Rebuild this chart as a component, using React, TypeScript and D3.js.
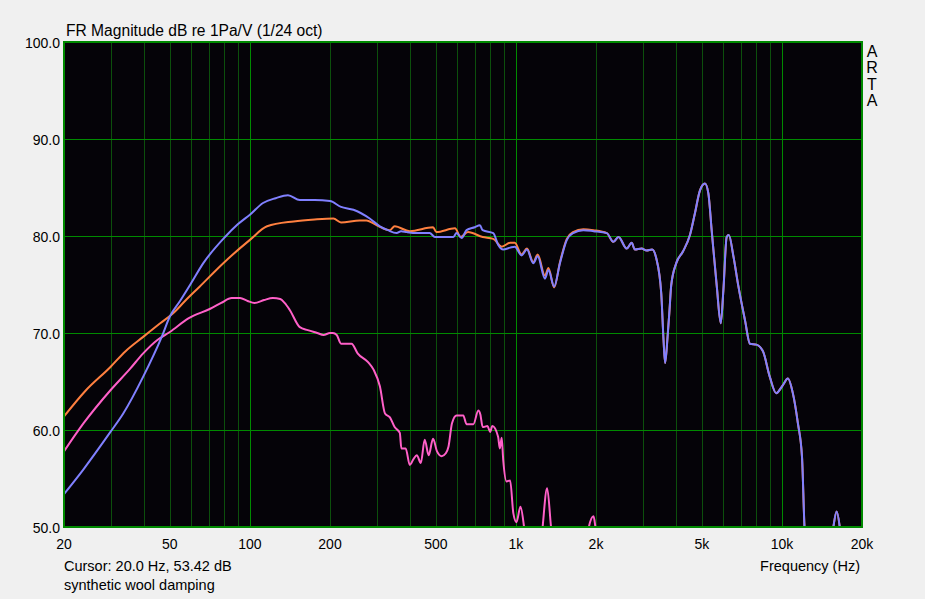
import React from "react";
import * as d3 from "d3";

const W = 925;
const H = 599;

// Axis definitions
const X_TICKS = [20, 50, 100, 200, 500, 1000, 2000, 5000, 10000, 20000];
const X_TICK_LABELS = ["20", "50", "100", "200", "500", "1k", "2k", "5k", "10k", "20k"];
const X_MAJOR_GRID = [100, 1000, 10000];
const X_MINOR_GRID = [30, 40, 50, 60, 70, 80, 90, 200, 300, 400, 500, 600, 700, 800, 900, 2000, 3000, 4000, 5000, 6000, 7000, 8000, 9000];
const Y_TICKS = [50, 60, 70, 80, 90, 100];
const Y_TICK_LABELS = ["50.0", "60.0", "70.0", "80.0", "90.0", "100.0"];

// Series: [frequency Hz, dB]
const PINK: [number, number][] = [[20,57.8],[23.7,60.7],[29.9,64.1],[35.4,66.3],[39.7,67.9],[45,69.3],[50,70.1],[58.7,71.5],[70.9,72.5],[78,73.1],[85.4,73.6],[91.8,73.6],[98,73.3],[104,73.1],[113,73.4],[122,73.6],[130,73.5],[135,73.1],[141,72.4],[154,70.6],[165,70.3],[179,70.0],[189,69.8],[200,70.0],[205,70.0],[212,69.8],[220,68.9],[241,68.9],[254,67.9],[278,67.0],[292,66.2],[308,64.5],[322,61.7],[336,61.3],[350,60.3],[366,59.7],[371,58.1],[385,58.1],[399,56.4],[412,57.0],[424,57.4],[439,56.6],[454,59.0],[470,57.4],[488,59.1],[505,57.8],[526,57.3],[545,57.6],[558,58.3],[575,60.7],[598,61.5],[634,61.5],[652,60.6],[692,60.6],[722,62.0],[735,61.6],[750,60.3],[782,60.4],[800,59.8],[815,60.4],[857,59.3],[870,58.1],[884,59.2],[896,56.9],[922,54.7],[951,54.8],[978,51.4],[1005,50.5],[1040,52.1],[1073,50.0],[1120,45.0],[1220,45.5],[1260,50.0],[1310,54.0],[1355,50.0],[1420,45.0],[1800,44.5],[1880,50.0],[1958,51.1],[1990,50.0],[2100,44.0],[3000,42.0],[20000,40.0]];

const ORANGE: [number, number][] = [[20,61.4],[24,64.0],[29.9,66.5],[34,68.1],[39.7,69.6],[46,71.0],[51.3,72.0],[57,73.3],[64.8,74.8],[79.4,77.2],[100,79.6],[116,81.0],[146,81.5],[175,81.7],[206,81.8],[220,81.4],[259,81.6],[274,81.6],[300,81.1],[336,80.6],[350,81.0],[399,80.5],[488,80.9],[502,80.4],[590,80.8],[620,79.9],[660,80.4],[750,79.9],[822,79.7],[884,78.9],[951,79.3],[990,79.3],[1050,78.1],[1100,78.7],[1162,77.3],[1207,78.1],[1286,75.9],[1325,76.7],[1392,74.7],[1464,77.3],[1554,79.7],[1640,80.4],[1792,80.7],[1957,80.6],[2196,80.3],[2326,79.4],[2430,79.9],[2608,78.7],[2724,79.3],[2800,78.6],[2970,78.7],[3100,78.5],[3250,78.6],[3370,77.7],[3518,74.1],[3588,69.3],[3638,66.9],[3716,69.6],[3780,72.4],[3835,74.9],[4006,77.2],[4245,78.4],[4510,80.1],[4705,82.3],[4920,84.7],[5137,85.4],[5290,84.4],[5443,80.6],[5690,74.8],[5890,71.0],[6024,74.4],[6200,79.9],[6314,80.1],[6572,77.9],[6862,74.8],[7266,71.3],[7580,68.9],[8020,68.8],[8490,68.1],[9000,65.5],[9520,63.8],[10070,64.6],[10530,65.3],[10990,63.8],[11480,60.7],[11900,57.2],[12140,50.4],[12500,45],[14000,43],[15500,49.5],[16060,51.6],[16600,49.5],[17500,44],[20000,42]];

const BLUE: [number, number][] = [[20,53.4],[23.6,55.9],[29.9,59.8],[33.4,61.7],[39.7,65.5],[46.6,69.6],[50,71.7],[54.6,73.3],[60,75.1],[66.8,77.2],[80.6,79.9],[90,81.2],[100,82.2],[112,83.4],[125,83.9],[139,84.2],[154,83.7],[175,83.7],[200,83.6],[220,83.0],[245,82.7],[282,81.8],[308,81.0],[330,80.6],[356,80.3],[370,80.5],[389,80.4],[424,80.3],[474,80.3],[496,79.9],[582,79.9],[598,80.3],[625,79.8],[652,80.6],[700,80.9],[732,81.1],[750,80.6],[822,80.3],[857,79.1],[896,78.6],[951,78.8],[990,78.9],[1050,78.0],[1100,78.6],[1162,77.2],[1207,77.9],[1286,75.6],[1325,76.5],[1392,74.8],[1464,77.2],[1554,79.6],[1640,80.3],[1792,80.6],[1957,80.5],[2196,80.3],[2326,79.4],[2430,79.9],[2608,78.7],[2724,79.3],[2800,78.6],[2970,78.7],[3100,78.5],[3250,78.6],[3370,77.7],[3518,74.1],[3588,69.3],[3638,66.9],[3716,69.6],[3780,72.4],[3835,74.9],[4006,77.2],[4245,78.4],[4510,80.1],[4705,82.3],[4920,84.7],[5137,85.4],[5290,84.4],[5443,80.6],[5690,74.8],[5890,71.0],[6024,74.4],[6200,79.9],[6314,80.1],[6572,77.9],[6862,74.8],[7266,71.3],[7580,68.9],[8020,68.8],[8490,68.1],[9000,65.5],[9520,63.8],[10070,64.6],[10530,65.3],[10990,63.8],[11480,60.7],[11900,57.2],[12140,50.4],[12500,45],[14000,43],[15500,49.5],[16060,51.6],[16600,49.5],[17500,44],[20000,42]];

const SERIES = [
  { name: "pink", data: PINK, color: "#ff60c8" },
  { name: "orange", data: ORANGE, color: "#ff8040" },
  { name: "blue", data: BLUE, color: "#8080ff" },
];

const TITLE = "FR Magnitude dB re 1Pa/V (1/24 oct)";
const CURSOR_TEXT = "Cursor: 20.0 Hz, 53.42 dB";
const NOTE_TEXT = "synthetic wool damping";
const X_LABEL = "Frequency (Hz)";
const BRAND = ["A", "R", "T", "A"];

export default function App() {
  const left = 64, right = 862, top = 42, bottom = 527;
  const x = d3.scaleLog().domain([20, 20000]).range([left, right]);
  const y = d3.scaleLinear().domain([50, 100]).range([bottom, top]);
  const line = d3
    .line<[number, number]>()
    .x((d) => x(d[0]))
    .y((d) => y(d[1]))
    .curve(d3.curveMonotoneX);
  const font = "'Liberation Sans', Arial, sans-serif";

  return (
    <svg
      width={W}
      height={H}
      style={{ position: "absolute", left: 0, top: 0, display: "block" }}
      fontFamily={font}
    >
      <rect x={0} y={0} width={W} height={H} fill="#f0f0f0" />
      <defs>
        <clipPath id="plotclip">
          <rect x={left} y={top} width={right - left} height={bottom - top} />
        </clipPath>
      </defs>
      <rect x={left} y={top} width={right - left} height={bottom - top} fill="#050308" />
      {X_MINOR_GRID.map((f) => (
        <line key={"mn" + f} x1={Math.round(x(f)) + 0.5} x2={Math.round(x(f)) + 0.5} y1={top} y2={bottom} stroke="#0c4f0c" strokeWidth={1} />
      ))}
      {X_MAJOR_GRID.map((f) => (
        <line key={"mj" + f} x1={Math.round(x(f)) + 0.5} x2={Math.round(x(f)) + 0.5} y1={top} y2={bottom} stroke="#008a00" strokeWidth={1} />
      ))}
      {Y_TICKS.slice(1, -1).map((v) => (
        <line key={"yg" + v} x1={left} x2={right} y1={Math.round(y(v)) + 0.5} y2={Math.round(y(v)) + 0.5} stroke="#008a00" strokeWidth={1} />
      ))}
      <g clipPath="url(#plotclip)">
        {SERIES.map((s) => (
          <path key={s.name} d={line(s.data) || ""} fill="none" stroke={s.color} strokeWidth={2} strokeLinejoin="round" />
        ))}
      </g>
      <rect x={left} y={top} width={right - left} height={bottom - top} fill="none" stroke="#008a00" strokeWidth={2} />

      <text x={66} y={36} fontSize={15.6} fill="#000">{TITLE}</text>
      {Y_TICKS.map((v, i) => (
        <text key={"yl" + v} x={60} y={y(v) + 5.5} fontSize={14} textAnchor="end" fill="#000">
          {Y_TICK_LABELS[i]}
        </text>
      ))}
      {X_TICKS.map((f, i) => (
        <text key={"xl" + f} x={x(f)} y={549} fontSize={14} textAnchor="middle" fill="#000">
          {X_TICK_LABELS[i]}
        </text>
      ))}
      <text x={64} y={571} fontSize={14.5} fill="#000">{CURSOR_TEXT}</text>
      <text x={64} y={590} fontSize={14.5} fill="#000">{NOTE_TEXT}</text>
      <text x={860} y={571} fontSize={14.5} textAnchor="end" fill="#000">{X_LABEL}</text>
      {BRAND.map((c, i) => (
        <text key={"b" + i} x={872} y={56.7 + i * 16.5} fontSize={16} textAnchor="middle" fill="#000">
          {c}
        </text>
      ))}
    </svg>
  );
}
